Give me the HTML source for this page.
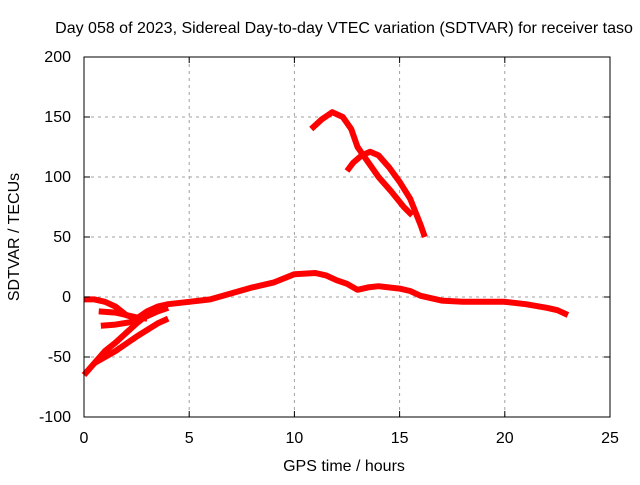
<!DOCTYPE html>
<html><head><meta charset="utf-8"><style>
body{margin:0;background:#fff}
text{font-family:"Liberation Sans",sans-serif;font-size:16px;fill:#000}
</style></head><body>
<svg id="chart" width="640" height="480">
<rect width="640" height="480" fill="#fff"/>
<text x="344" y="33" text-anchor="middle">Day 058 of 2023, Sidereal Day-to-day VTEC variation (SDTVAR) for receiver taso</text>
<g id="grid"></g>
<g id="series" fill="none" stroke="#f00" stroke-width="6" stroke-linejoin="round"></g>
<rect x="84" y="57" width="526" height="360" fill="none" stroke="#000"/>
<g id="ticks"></g>
<text x="344" y="471" text-anchor="middle">GPS time / hours</text>
<text transform="translate(19,237) rotate(-90)" text-anchor="middle">SDTVAR / TECUs</text>
</svg>
<script>
const xTicks=[0,5,10,15,20,25];
const yTicks=[-100,-50,0,50,100,150,200];
const trackMainX=[0,0.5,1,1.5,2,2.5,3,3.5,4,5,6,7,8,9,10,11,11.5,12,12.5,13,13.5,14,15,15.5,16,17,18,19,20,21,22,22.5,23];
const trackMainY=[-2,-2,-4,-8,-15,-18,-12,-8,-6,-4,-2,3,8,12,19,20,18,14,11,6,8,9,7,5,1,-3,-4,-4,-4,-6,-9,-11,-15];
const trackBX=[0.7,1.5,2,2.5,3];
const trackBY=[-12,-13,-15,-17,-18];
const trackCX=[0.8,1.5,2.2,3,3.5,4];
const trackCY=[-24,-23,-21,-16,-12,-9];
const trackDX=[0,0.5,1,1.5,2,2.5,3,3.5];
const trackDY=[-65,-55,-45,-38,-30,-22,-15,-10];
const trackEX=[0.5,1.5,2.5,3.5,4];
const trackEY=[-55,-45,-33,-22,-18];
const trackFX=[10.8,11.3,11.8,12.3,12.7,13.0,13.4,14.0,14.6,15.2,15.6];
const trackFY=[140,148,154,150,140,125,115,100,88,75,68];
const trackGX=[12.5,12.8,13.2,13.6,14,14.5,15,15.5,16,16.2];
const trackGY=[105,112,118,121,118,108,96,82,60,50];
const NS="http://www.w3.org/2000/svg";
const xs=v=>84+v*526/25, ys=v=>297-v*1.2;
const grid=document.getElementById('grid'), ticks=document.getElementById('ticks'), ser=document.getElementById('series');
function mk(tag,attrs,parent){const e=document.createElementNS(NS,tag);for(const k in attrs)e.setAttribute(k,attrs[k]);parent.appendChild(e);return e;}
xTicks.forEach(t=>{const x=xs(t);
 if(t>0&&t<25){const g=mk('line',{x1:x,x2:x,y1:57,y2:417,stroke:'#a0a0a0','stroke-dasharray':'3,4'},grid);
 
 }
 mk('line',{x1:x,x2:x,y1:417,y2:411,stroke:'#000'},ticks);mk('line',{x1:x,x2:x,y1:57,y2:63,stroke:'#000'},ticks);
 const l=mk('text',{x:x,y:443,'text-anchor':'middle'},ticks);l.textContent=t;
 
 });
yTicks.forEach(t=>{const y=ys(t);
 if(t>-100&&t<200){const g=mk('line',{x1:84,x2:610,y1:y,y2:y,stroke:'#a0a0a0','stroke-dasharray':'3,4'},grid);
 
 }
 mk('line',{x1:84,x2:90,y1:y,y2:y,stroke:'#000'},ticks);mk('line',{x1:610,x2:604,y1:y,y2:y,stroke:'#000'},ticks);
 const l=mk('text',{x:71,y:y+5,'text-anchor':'end'},ticks);l.textContent=t;
 
 });
[[trackMainX,trackMainY],[trackBX,trackBY],[trackCX,trackCY],[trackDX,trackDY],[trackEX,trackEY],[trackFX,trackFY],[trackGX,trackGY]].forEach(([X,Y],i)=>{
 const p=mk('polyline',{points:X.map((x,j)=>xs(x)+','+ys(Y[j])).join(' ')},ser);
 
 });
</script>
</body></html>
